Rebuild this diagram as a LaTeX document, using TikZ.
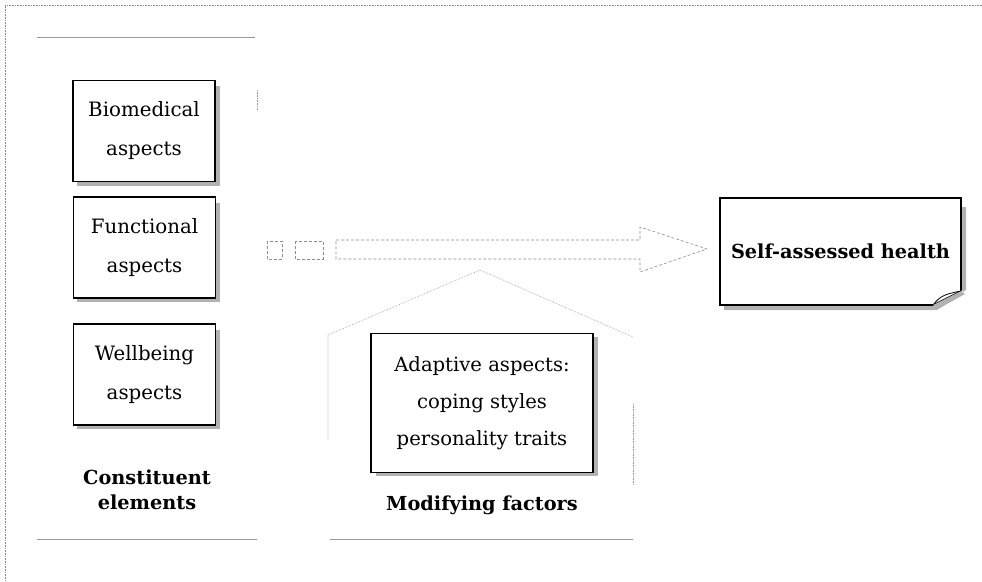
\documentclass[tikz,border=0pt]{standalone}
\usepackage{fontspec}
\setmainfont{DejaVu Serif}
\begin{document}
\begin{tikzpicture}[x=1pt,y=-1pt,
  frameline/.style={draw=black!45, line width=0.6pt, densely dotted},
  panelline/.style={draw=black!40, line width=0.7pt},
  houseline/.style={draw=black!40, line width=0.6pt, densely dotted},
  arrowline/.style={draw=black!45, line width=0.6pt, densely dashed},
  boxshadow/.style={fill=black!30},
  elembox/.style={draw=black, line width=1.2pt, fill=white, minimum width=142pt, minimum height=101pt, align=center, inner sep=0pt, font=\fontsize{19.8}{39}\selectfont},
  lbl/.style={align=center, font=\fontsize{19.3}{25.5}\selectfont\bfseries}
]
\useasboundingbox (0,0) rectangle (982,581);
% outer frame (top and left)
\draw[frameline] (982,5) -- (5,5) -- (5,581);
% left panel lines
\draw[panelline] (37,37) -- (255,37);
\draw[panelline] (37,539) -- (257,539);
\draw[houseline] (257,90) -- (257,110);
% shadows
\fill[boxshadow] (77,86) rectangle (220,186);
\fill[boxshadow] (77,203) rectangle (220,302);
\fill[boxshadow] (77,330) rectangle (220,429);
% elements
\node[elembox] (bio) at (144,131) {Biomedical\\aspects};
\node[elembox] (fun) at (144.5,247.5) {Functional\\aspects};
\node[elembox] (wel) at (144.5,374.5) {Wellbeing\\aspects};
\node[lbl] (cons) at (147,490) {Constituent\\elements};
% arrow pieces
\draw[arrowline] (267,241) rectangle (282,259);
\draw[arrowline] (295,241) rectangle (323,259);
\coordinate (st) at (336,240);
\coordinate (tip) at (707,249);
\draw[arrowline] (st) -- (640,240) -- (640,227) -- (tip) -- (640,272) -- (640,259) -- (336,259) -- cycle;
% modifying panel
\coordinate (peak) at (480,270);
\draw[houseline] (328,440) -- (328,335) -- (peak) -- (633,337);
\draw[houseline] (633,404) -- (633,485);
\draw[panelline] (330,539) -- (633,539);
\fill[boxshadow] (376,337) rectangle (598,476);
\node[elembox, minimum width=222pt, minimum height=139pt, font=\fontsize{19.6}{37}\selectfont] (adapt) at (482,403) {Adaptive aspects:\\coping styles\\personality traits};
\node[lbl] (mod) at (482,505) {Modifying factors};
% self-assessed health
\fill[boxshadow] (724,207) -- (966,207) -- (966,290) -- (937,310) -- (724,310) -- cycle;
\node[draw=black, line width=1.2pt, fill=white, minimum width=241pt, minimum height=107pt, inner sep=0pt, font=\fontsize{19.3}{25}\selectfont\bfseries] (sah) at (840.5,251.5) {Self-assessed health};
\fill[white] (933,306) -- (962.6,306) -- (962.6,290) -- cycle;
\draw[line width=1.2pt] (720,305) -- (933,305) -- (961,291) -- (961,198);
\draw[line width=0.8pt] (933,305) .. controls (940,296) and (945,294) .. (961,291);
\fill[black!30] (933,305) -- (961,291) -- (965,294) -- (938,309) -- cycle;
\end{tikzpicture}
\end{document}
